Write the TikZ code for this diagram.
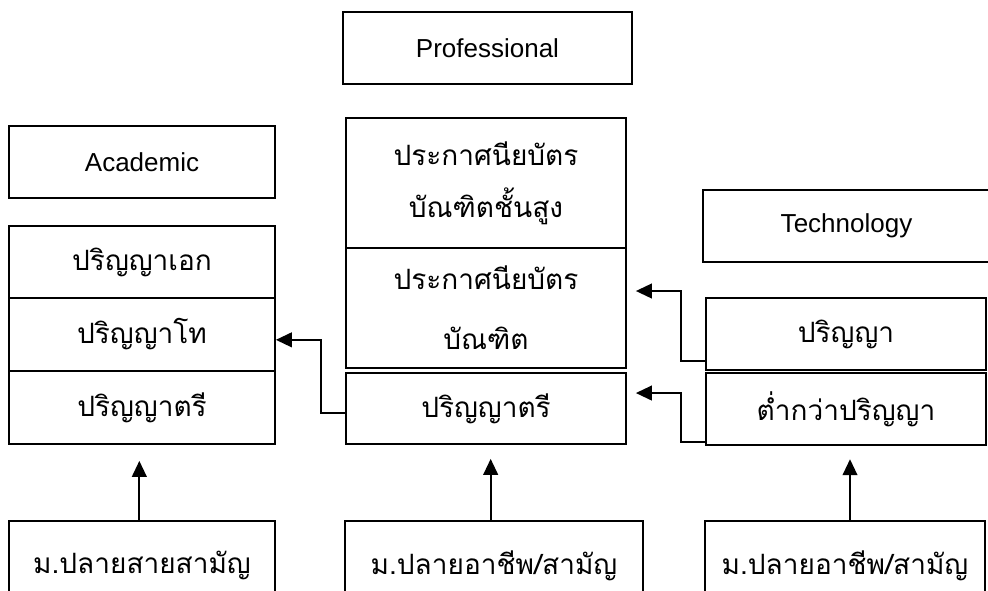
\documentclass[tikz,border=0pt]{standalone}
\usepackage{fontspec}
\setmainfont{Liberation Sans}
\newfontfamily\thaifont[Script=Thai]{Loma}
\usetikzlibrary{arrows.meta}
\begin{document}
\begin{tikzpicture}[x=0.75pt, y=-0.75pt,
    box/.style={draw, line width=1.3pt, inner sep=0pt, align=center, font=\thaifont\fontsize{21}{30}\selectfont},
    head/.style={box, font=\fontsize{19.5}{22}\selectfont},
    arr/.style={line width=1.5pt, -{Triangle[length=12pt, width=11pt]}}]
    \useasboundingbox (0,0) rectangle (988,590);
    \clip (0,0) rectangle (988,590);

    \node[head, minimum width=216.75pt, minimum height=54pt] (prof) at (487.5,48) {Professional};
    \node[head, minimum width=199.5pt, minimum height=54pt] (acad) at (142,162) {Academic};
    \node[head, minimum width=215.25pt, minimum height=54pt] (tech) at (846.5,226) {Technology};

    \node[box, minimum width=199.5pt, minimum height=54pt] (a1) at (142,262) {ปริญญาเอก};
    \node[box, minimum width=199.5pt, minimum height=54.75pt] (a2) at (142,334.5) {ปริญญาโท};
    \node[box, minimum width=199.5pt, minimum height=54.75pt] (a3) at (142,407.5) {ปริญญาตรี};

    \node[box, minimum width=210pt, minimum height=97.5pt] (p1) at (486,183) {ประกาศนียบัตร\\[9pt]บัณฑิตชั้นสูง};
    \node[box, minimum width=210pt, minimum height=90pt] (p2) at (486,308) {ประกาศนียบัตร\\[15pt]บัณฑิต};
    \node[box, minimum width=210pt, minimum height=53.25pt] (p3) at (486,408.5) {ปริญญาตรี};

    \node[box, minimum width=210pt, minimum height=54pt] (t1) at (846,334) {ปริญญา};
    \node[box, minimum width=210pt, minimum height=54pt] (t2) at (846,409) {ต่ำกว่าปริญญา};

    \node[box, minimum width=199.5pt, minimum height=66.75pt] (b1) at (142,565.5) {ม.ปลายสายสามัญ};
    \node[box, minimum width=223.5pt, minimum height=66.75pt] (b2) at (494,565.5) {ม.ปลายอาชีพ/สามัญ};
    \node[box, minimum width=210pt, minimum height=66.75pt] (b3) at (845,565.5) {ม.ปลายอาชีพ/สามัญ};

    \draw[arr, shorten >=12pt] ([xshift=-2pt]a3.south |- b1.north) -- ([xshift=-2pt]a3.south);
    \draw[arr, shorten >=10.5pt] ([xshift=3.5pt]p3.south |- b2.north) -- ([xshift=3.5pt]p3.south);
    \draw[arr, shorten >=10pt] ([xshift=3pt]t2.south |- b3.north) -- ([xshift=3pt]t2.south);

    \draw[arr] ([yshift=-3.4pt]p3.west) -- ++(-18pt,0) |- ([yshift=-4pt]a2.east);
    \draw[arr, shorten >=6.75pt] ([yshift=-20pt]t1.west) -- ++(-18pt,0) |- ([yshift=12.75pt]p2.east);
    \draw[arr, shorten >=6.75pt] ([yshift=-24.75pt]t2.west) -- ++(-18pt,0) |- ([yshift=11.6pt]p3.east);
\end{tikzpicture}
\end{document}
